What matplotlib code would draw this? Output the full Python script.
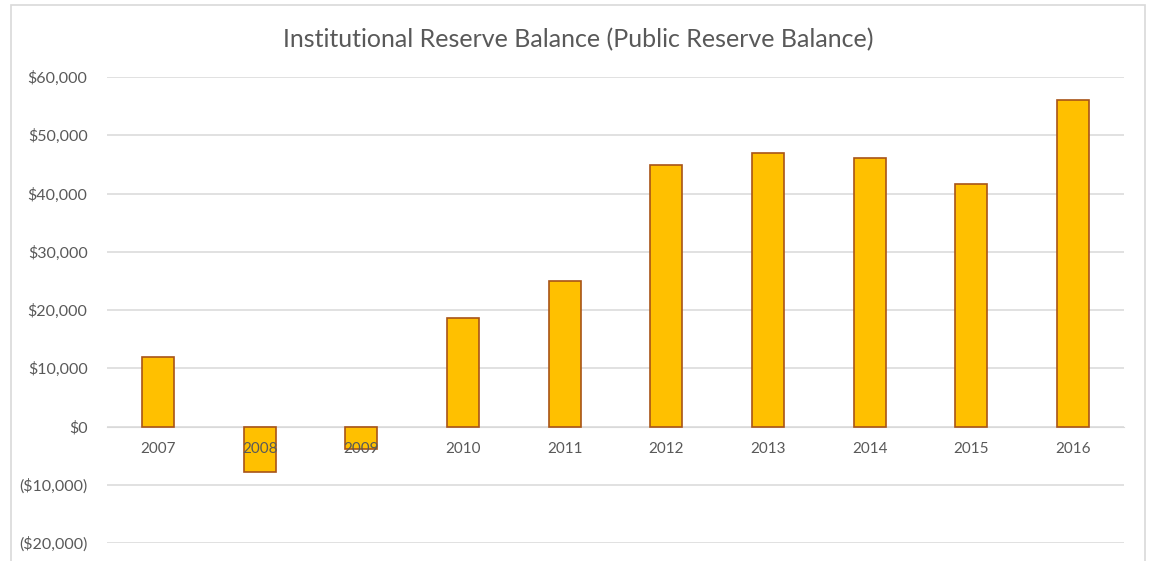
import matplotlib
matplotlib.use("Agg")
import matplotlib.pyplot as plt
from matplotlib.patches import Rectangle
from matplotlib.ticker import FuncFormatter, MultipleLocator

# reserve balance by year
years = ["2007", "2008", "2009", "2010", "2011", "2012", "2013", "2014", "2015", "2016"]
balance = [12000, -7800, -3900, 18700, 24900, 44850, 46950, 46100, 41650, 56000]

TEXT = "#595959"
GRID = "#D9D9D9"

plt.rcParams["font.family"] = ["Lato", "DejaVu Sans"]


def money(v, pos=None):
    if v < 0:
        return "(${:,.0f})".format(-v)
    return "${:,.0f}".format(v)


fig = plt.figure(figsize=(11.5, 5.61), dpi=100)

# chart frame
fig.patches.append(Rectangle((11 / 1150, -0.1), 1134 / 1150, 1.1 - 5 / 561,
                             transform=fig.transFigure, fill=False,
                             edgecolor=GRID, linewidth=1.2, zorder=0))

ax = fig.add_axes([107 / 1150, 18 / 561, 1017 / 1150, 466 / 561])
x = range(len(years))
ax.bar(x, balance, width=0.315, color="#FFC000", edgecolor="#A85418",
       linewidth=1.2, zorder=3)

ax.set_xlim(-0.5, len(years) - 0.5)
ax.set_ylim(-20000, 60000)
ax.yaxis.set_major_locator(MultipleLocator(10000))
ax.yaxis.set_major_formatter(FuncFormatter(money))
ax.grid(axis="y", color=GRID, linewidth=1.1)
ax.yaxis.set_zorder(0.5)

ax.set_xticks(list(x))
ax.set_xticklabels(years)
ax.spines["bottom"].set_position(("data", 0))
ax.spines["bottom"].set_color(GRID)
ax.spines["bottom"].set_zorder(2)
for s in ["top", "right", "left"]:
    ax.spines[s].set_visible(False)
# year labels sit on top of the negative bars
ax.xaxis.set_zorder(5)

ax.tick_params(axis="x", length=0, pad=11.5, labelsize=11, labelcolor=TEXT)
ax.tick_params(axis="y", length=0, pad=14, labelsize=11.5, labelcolor=TEXT)

fig.text(578 / 1150, 1 - 39.5 / 561, "Institutional Reserve Balance (Public Reserve Balance)",
         ha="center", va="center", fontsize=18, color=TEXT)

fig.savefig("out.png", dpi=100)
